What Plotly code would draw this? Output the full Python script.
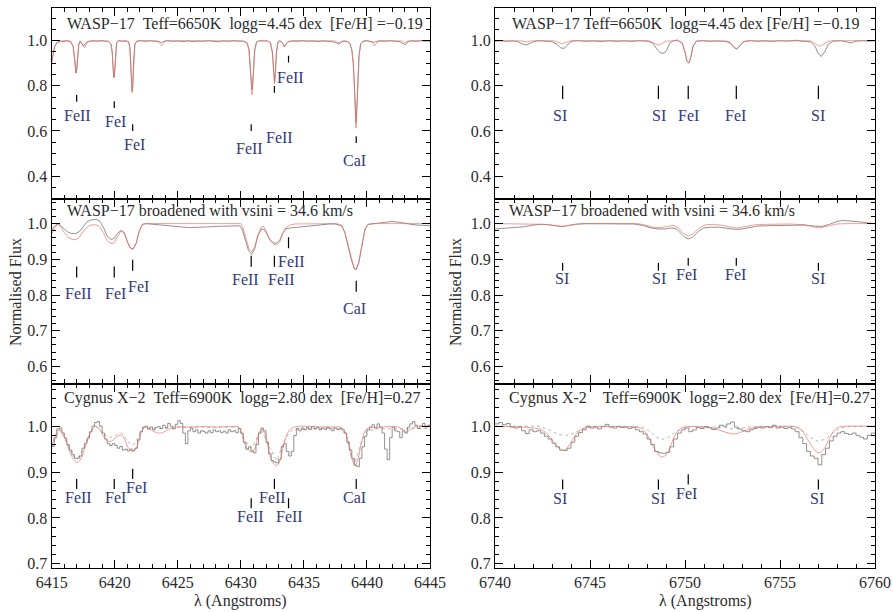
import plotly.graph_objects as go

# ---------------------------------------------------------------------------
# Spectra as (wavelength [Angstrom], normalised flux) pairs
# ---------------------------------------------------------------------------

# WASP-17, 6415-6445 A, observed (grey) and synthetic (red)
wasp_blue_obs = [
    (6415.00, 0.905), (6415.10, 0.940), (6415.25, 0.975), (6415.40, 0.990), (6415.60, 0.995),
    (6415.90, 0.997), (6416.20, 0.999), (6416.50, 0.996), (6416.70, 0.975), (6416.80, 0.930),
    (6416.88, 0.880), (6416.93, 0.856), (6416.98, 0.870), (6417.05, 0.930), (6417.15, 0.985),
    (6417.25, 0.999), (6417.35, 0.992), (6417.50, 0.976), (6417.65, 0.986), (6417.80, 0.995),
    (6418.00, 0.997), (6418.30, 1.000), (6418.60, 0.997), (6418.90, 1.000), (6419.20, 0.998),
    (6419.50, 0.997), (6419.70, 0.985), (6419.80, 0.950), (6419.87, 0.880), (6419.93, 0.836),
    (6419.98, 0.850), (6420.05, 0.930), (6420.15, 0.990), (6420.30, 1.000), (6420.60, 0.998),
    (6420.90, 1.000), (6421.10, 0.995), (6421.20, 0.970), (6421.28, 0.900), (6421.34, 0.805),
    (6421.38, 0.776), (6421.43, 0.800), (6421.50, 0.920), (6421.60, 0.985), (6421.75, 0.998),
    (6422.00, 1.000), (6422.40, 0.997), (6422.80, 1.000), (6423.20, 0.998), (6423.50, 0.996),
    (6423.70, 0.992), (6423.90, 0.997), (6424.20, 1.000), (6424.60, 0.997), (6425.00, 0.999),
    (6425.40, 0.996), (6425.80, 0.999), (6426.20, 0.996), (6426.60, 0.999), (6427.00, 0.997),
    (6427.40, 1.000), (6427.80, 0.997), (6428.20, 0.995), (6428.60, 0.999), (6429.00, 0.997),
    (6429.40, 1.000), (6429.80, 0.998), (6430.20, 0.997), (6430.50, 0.990), (6430.65, 0.960),
    (6430.75, 0.880), (6430.83, 0.800), (6430.88, 0.782), (6430.93, 0.800), (6431.00, 0.880),
    (6431.10, 0.960), (6431.25, 0.995), (6431.50, 1.000), (6431.80, 0.998), (6432.10, 0.999),
    (6432.35, 0.990), (6432.50, 0.950), (6432.60, 0.870), (6432.67, 0.820), (6432.73, 0.850),
    (6432.82, 0.950), (6432.95, 0.995), (6433.10, 1.000), (6433.30, 0.990), (6433.45, 0.972),
    (6433.60, 0.985), (6433.80, 0.996), (6434.10, 0.999), (6434.50, 0.997), (6434.90, 1.000),
    (6435.30, 0.997), (6435.70, 0.999), (6436.10, 0.996), (6436.50, 0.999), (6436.90, 0.997),
    (6437.30, 0.995), (6437.60, 0.990), (6437.75, 0.984), (6437.90, 0.990), (6438.10, 0.998),
    (6438.40, 0.997), (6438.65, 0.988), (6438.80, 0.960), (6438.92, 0.900), (6439.00, 0.810),
    (6439.07, 0.700), (6439.13, 0.634), (6439.19, 0.690), (6439.27, 0.830), (6439.37, 0.935),
    (6439.50, 0.985), (6439.70, 0.998), (6440.00, 1.000), (6440.30, 0.997), (6440.50, 0.993),
    (6440.70, 0.996), (6441.00, 0.999), (6441.40, 0.997), (6441.80, 1.000), (6442.20, 0.998),
    (6442.60, 0.995), (6442.90, 0.986), (6443.05, 0.982), (6443.20, 0.994), (6443.50, 0.999),
    (6443.90, 0.997), (6444.30, 1.000), (6444.70, 0.998), (6445.00, 0.999),
]
wasp_blue_syn = [
    (6415.00, 0.910), (6415.10, 0.945), (6415.25, 0.978), (6415.40, 0.992), (6415.60, 0.998),
    (6416.00, 1.000), (6416.50, 0.998), (6416.70, 0.975), (6416.80, 0.930), (6416.88, 0.880),
    (6416.93, 0.858), (6416.98, 0.872), (6417.05, 0.930), (6417.15, 0.985), (6417.30, 0.995),
    (6417.45, 0.980), (6417.60, 0.968), (6417.75, 0.985), (6417.95, 0.998), (6418.50, 1.000),
    (6419.00, 1.000), (6419.50, 0.998), (6419.70, 0.985), (6419.80, 0.950), (6419.87, 0.880),
    (6419.93, 0.838), (6419.98, 0.852), (6420.05, 0.930), (6420.15, 0.990), (6420.30, 1.000),
    (6421.10, 0.995), (6421.20, 0.970), (6421.28, 0.900), (6421.34, 0.800), (6421.38, 0.769),
    (6421.43, 0.795), (6421.50, 0.915), (6421.60, 0.985), (6421.75, 0.998), (6422.00, 1.000),
    (6423.40, 0.999), (6423.60, 0.988), (6423.72, 0.978), (6423.85, 0.988), (6424.05, 0.999),
    (6425.00, 1.000), (6430.20, 0.999), (6430.50, 0.990), (6430.65, 0.955), (6430.75, 0.870),
    (6430.83, 0.785), (6430.88, 0.759), (6430.93, 0.790), (6431.00, 0.875), (6431.10, 0.958),
    (6431.25, 0.995), (6431.50, 1.000), (6432.10, 1.000), (6432.35, 0.990), (6432.50, 0.945),
    (6432.60, 0.860), (6432.67, 0.808), (6432.73, 0.840), (6432.82, 0.945), (6432.95, 0.994),
    (6433.10, 1.000), (6433.30, 0.990), (6433.45, 0.975), (6433.60, 0.988), (6433.80, 0.997),
    (6434.10, 1.000), (6437.50, 0.999), (6437.70, 0.990), (6437.90, 0.993), (6438.10, 0.999),
    (6438.40, 0.998), (6438.65, 0.987), (6438.80, 0.958), (6438.92, 0.895), (6439.00, 0.800),
    (6439.07, 0.680), (6439.13, 0.612), (6439.19, 0.675), (6439.27, 0.820), (6439.37, 0.930),
    (6439.50, 0.984), (6439.70, 0.998), (6440.00, 1.000), (6440.40, 0.995), (6440.60, 0.977),
    (6440.80, 0.993), (6441.00, 1.000), (6442.80, 0.999), (6443.00, 0.990), (6443.20, 0.998),
    (6443.50, 1.000), (6445.00, 1.000),
]

# WASP-17, 6740-6760 A
wasp_red_obs = [
    (6740.00, 0.998), (6740.30, 1.000), (6740.60, 0.997), (6740.90, 0.999), (6741.20, 0.996),
    (6741.45, 0.985), (6741.65, 0.981), (6741.85, 0.990), (6742.10, 0.998), (6742.40, 1.000),
    (6742.70, 0.997), (6743.00, 0.995), (6743.25, 0.985), (6743.45, 0.968), (6743.65, 0.966),
    (6743.85, 0.985), (6744.05, 0.998), (6744.40, 1.000), (6744.80, 0.997), (6745.20, 0.999),
    (6745.60, 0.996), (6746.00, 1.000), (6746.40, 0.997), (6746.80, 0.999), (6747.20, 0.997),
    (6747.60, 1.000), (6748.00, 0.998), (6748.30, 0.990), (6748.50, 0.965), (6748.70, 0.946),
    (6748.90, 0.944), (6749.05, 0.960), (6749.20, 0.990), (6749.40, 1.000), (6749.60, 1.003),
    (6749.85, 0.990), (6750.00, 0.950), (6750.10, 0.910), (6750.20, 0.900), (6750.30, 0.925),
    (6750.42, 0.975), (6750.60, 0.998), (6750.90, 1.000), (6751.30, 0.997), (6751.70, 0.999),
    (6752.10, 0.997), (6752.40, 0.990), (6752.55, 0.972), (6752.72, 0.962), (6752.88, 0.975),
    (6753.05, 0.995), (6753.40, 1.000), (6753.80, 0.997), (6754.20, 0.999), (6754.60, 0.997),
    (6755.00, 1.000), (6755.40, 0.998), (6755.80, 1.002), (6756.20, 0.998), (6756.60, 0.995),
    (6756.85, 0.975), (6757.00, 0.945), (6757.17, 0.930), (6757.35, 0.950), (6757.55, 0.985),
    (6757.80, 0.998), (6758.20, 1.000), (6758.55, 0.995), (6758.75, 0.990), (6758.95, 0.997),
    (6759.30, 1.000), (6759.70, 0.998), (6760.00, 1.000),
]
wasp_red_syn = [
    (6740.00, 1.000), (6741.40, 0.999), (6741.65, 0.994), (6741.90, 0.999), (6743.10, 1.000),
    (6743.35, 0.992), (6743.55, 0.986), (6743.75, 0.993), (6744.00, 1.000), (6748.10, 1.000),
    (6748.40, 0.990), (6748.60, 0.980), (6748.80, 0.988), (6749.00, 0.998), (6749.60, 1.000),
    (6749.85, 0.990), (6750.00, 0.950), (6750.10, 0.910), (6750.20, 0.902), (6750.30, 0.925),
    (6750.42, 0.975), (6750.60, 0.998), (6750.90, 1.000), (6752.30, 0.998), (6752.50, 0.978),
    (6752.72, 0.964), (6752.90, 0.978), (6753.10, 0.997), (6753.40, 1.000), (6756.60, 0.999),
    (6756.90, 0.985), (6757.10, 0.975), (6757.30, 0.985), (6757.55, 0.998), (6757.80, 1.000),
    (6760.00, 1.000),
]

# WASP-17 broadened to vsini = 34.6 km/s, 6415-6445 A
broad_blue_obs = [
    (6415.00, 0.980), (6415.20, 0.992), (6415.45, 1.000), (6415.70, 0.995), (6416.00, 0.985),
    (6416.30, 0.976), (6416.60, 0.972), (6416.90, 0.972), (6417.20, 0.978), (6417.50, 0.992),
    (6417.80, 1.005), (6418.10, 1.010), (6418.50, 1.012), (6418.80, 1.008), (6419.10, 0.990),
    (6419.40, 0.965), (6419.70, 0.956), (6419.95, 0.958), (6420.20, 0.972), (6420.50, 0.981),
    (6420.75, 0.975), (6421.00, 0.950), (6421.20, 0.933), (6421.45, 0.929), (6421.70, 0.945),
    (6421.95, 0.980), (6422.20, 0.998), (6422.50, 1.000), (6423.00, 0.998), (6423.50, 0.996),
    (6424.00, 0.994), (6424.50, 0.993), (6425.00, 0.991), (6425.50, 0.990), (6426.00, 0.989),
    (6426.50, 0.989), (6427.00, 0.990), (6427.50, 0.991), (6428.00, 0.992), (6428.50, 0.993),
    (6429.00, 0.994), (6429.50, 0.995), (6429.90, 0.994), (6430.10, 0.985), (6430.35, 0.955),
    (6430.60, 0.925), (6430.86, 0.914), (6431.10, 0.930), (6431.35, 0.965), (6431.60, 0.983),
    (6431.80, 0.985), (6432.00, 0.975), (6432.30, 0.955), (6432.60, 0.946), (6432.85, 0.945),
    (6433.10, 0.955), (6433.35, 0.975), (6433.60, 0.986), (6434.00, 0.988), (6434.50, 0.990),
    (6435.00, 0.993), (6435.50, 0.995), (6436.00, 0.997), (6436.50, 0.998), (6437.00, 0.999),
    (6437.50, 0.999), (6438.00, 0.994), (6438.25, 0.975), (6438.50, 0.940), (6438.75, 0.900),
    (6439.00, 0.874), (6439.15, 0.872), (6439.35, 0.890), (6439.60, 0.940), (6439.85, 0.985),
    (6440.10, 0.998), (6440.50, 1.000), (6441.00, 1.002), (6441.50, 1.004), (6442.00, 1.006),
    (6442.50, 1.004), (6443.00, 1.000), (6443.50, 0.998), (6444.00, 0.996), (6444.50, 0.995),
    (6445.00, 0.994),
]
broad_blue_syn = [
    (6415.00, 0.970), (6415.20, 0.985), (6415.45, 0.998), (6415.70, 0.992), (6416.00, 0.975),
    (6416.30, 0.962), (6416.60, 0.956), (6416.90, 0.955), (6417.20, 0.962), (6417.50, 0.978),
    (6417.80, 0.990), (6418.10, 0.996), (6418.50, 0.997), (6418.80, 0.992), (6419.10, 0.975),
    (6419.40, 0.952), (6419.70, 0.944), (6419.95, 0.946), (6420.20, 0.962), (6420.50, 0.980),
    (6420.75, 0.972), (6421.00, 0.948), (6421.20, 0.932), (6421.45, 0.928), (6421.70, 0.944),
    (6421.95, 0.980), (6422.20, 0.998), (6422.50, 1.000), (6430.00, 1.000), (6430.15, 0.990),
    (6430.40, 0.960), (6430.65, 0.930), (6430.86, 0.921), (6431.10, 0.935), (6431.35, 0.968),
    (6431.60, 0.990), (6431.80, 0.993), (6432.00, 0.980), (6432.30, 0.955), (6432.60, 0.942),
    (6432.85, 0.940), (6433.10, 0.950), (6433.35, 0.975), (6433.60, 0.990), (6433.90, 0.996),
    (6434.30, 0.999), (6437.60, 1.000), (6438.00, 0.995), (6438.25, 0.975), (6438.50, 0.940),
    (6438.75, 0.900), (6439.00, 0.873), (6439.15, 0.871), (6439.35, 0.890), (6439.60, 0.940),
    (6439.85, 0.985), (6440.10, 0.998), (6440.50, 1.000), (6445.00, 1.000),
]

# WASP-17 broadened, 6740-6760 A
broad_red_obs = [
    (6740.00, 0.985), (6740.50, 0.987), (6741.00, 0.989), (6741.50, 0.991), (6742.00, 0.996),
    (6742.40, 0.998), (6742.80, 0.997), (6743.20, 0.994), (6743.50, 0.992), (6743.80, 0.994),
    (6744.20, 0.998), (6744.70, 1.000), (6745.50, 1.000), (6746.50, 1.000), (6747.30, 0.999),
    (6747.80, 0.995), (6748.20, 0.988), (6748.60, 0.985), (6749.00, 0.985), (6749.30, 0.988),
    (6749.55, 0.985), (6749.80, 0.972), (6750.00, 0.961), (6750.17, 0.957), (6750.40, 0.962),
    (6750.70, 0.978), (6751.00, 0.988), (6751.40, 0.990), (6751.80, 0.990), (6752.20, 0.987),
    (6752.60, 0.984), (6752.90, 0.984), (6753.30, 0.988), (6753.80, 0.993), (6754.30, 0.994),
    (6755.00, 0.995), (6755.70, 0.994), (6756.30, 0.996), (6756.80, 0.993), (6757.20, 0.992),
    (6757.60, 0.998), (6758.00, 1.006), (6758.30, 1.009), (6758.70, 1.008), (6759.20, 1.005),
    (6759.60, 1.002), (6760.00, 1.000),
]
broad_red_syn = [
    (6740.00, 1.000), (6741.00, 1.000), (6742.00, 0.999), (6742.70, 0.998), (6743.20, 0.994),
    (6743.55, 0.992), (6743.90, 0.995), (6744.40, 0.999), (6745.00, 1.000), (6747.50, 1.000),
    (6747.90, 0.996), (6748.30, 0.990), (6748.70, 0.989), (6749.10, 0.992), (6749.40, 0.995),
    (6749.65, 0.988), (6749.90, 0.973), (6750.17, 0.965), (6750.45, 0.972), (6750.75, 0.988),
    (6751.10, 0.997), (6751.50, 0.998), (6752.00, 0.995), (6752.40, 0.990), (6752.80, 0.988),
    (6753.20, 0.992), (6753.70, 0.997), (6754.30, 0.998), (6755.50, 0.999), (6756.30, 0.997),
    (6756.80, 0.990), (6757.10, 0.988), (6757.50, 0.992), (6758.00, 0.999), (6758.50, 1.000),
    (6760.00, 1.000),
]

# Cygnus X-2, 6415-6445 A: observed (binned), best fit (red), alternative fit (dotted)
cyg_blue_obs = [
    (6415.0, 0.956), (6415.2, 0.975), (6415.4, 0.994), (6415.6, 0.996), (6415.8, 0.985),
    (6416.0, 0.974), (6416.2, 0.960), (6416.4, 0.948), (6416.6, 0.938), (6416.8, 0.930),
    (6417.0, 0.930), (6417.2, 0.935), (6417.4, 0.952), (6417.6, 0.963), (6417.8, 0.974),
    (6418.0, 0.988), (6418.2, 1.000), (6418.4, 1.008), (6418.6, 1.010), (6418.8, 1.000),
    (6419.0, 0.985), (6419.2, 0.972), (6419.4, 0.962), (6419.6, 0.958), (6419.8, 0.962),
    (6420.0, 0.958), (6420.2, 0.952), (6420.4, 0.956), (6420.6, 0.948), (6420.8, 0.950),
    (6421.0, 0.946), (6421.2, 0.950), (6421.4, 0.947), (6421.6, 0.952), (6421.8, 0.970),
    (6422.0, 0.988), (6422.2, 0.998), (6422.4, 1.000), (6422.6, 0.994), (6422.8, 0.998),
    (6423.0, 0.992), (6423.2, 0.997), (6423.4, 0.999), (6423.6, 0.995), (6423.8, 1.002),
    (6424.0, 0.997), (6424.2, 1.006), (6424.4, 1.000), (6424.6, 0.994), (6424.8, 1.004),
    (6425.0, 1.012), (6425.2, 1.006), (6425.4, 0.985), (6425.6, 0.962), (6425.8, 0.990),
    (6426.0, 0.996), (6426.2, 0.988), (6426.4, 0.992), (6426.6, 0.985), (6426.8, 0.990),
    (6427.0, 0.988), (6427.2, 0.985), (6427.4, 0.990), (6427.6, 0.986), (6427.8, 0.992),
    (6428.0, 0.988), (6428.2, 0.990), (6428.4, 0.986), (6428.6, 0.989), (6428.8, 0.985),
    (6429.0, 0.992), (6429.2, 0.988), (6429.4, 0.990), (6429.6, 0.986), (6429.8, 0.995),
    (6430.0, 0.985), (6430.2, 0.965), (6430.4, 0.950), (6430.6, 0.955), (6430.8, 0.946),
    (6431.0, 0.942), (6431.2, 0.960), (6431.4, 0.985), (6431.6, 0.996), (6431.8, 0.990),
    (6432.0, 0.965), (6432.2, 0.940), (6432.4, 0.925), (6432.6, 0.922), (6432.8, 0.920),
    (6433.0, 0.928), (6433.2, 0.955), (6433.4, 0.962), (6433.6, 0.945), (6433.8, 0.935),
    (6434.0, 0.945), (6434.2, 0.980), (6434.4, 0.995), (6434.6, 0.990), (6434.8, 0.996),
    (6435.0, 0.992), (6435.2, 0.997), (6435.4, 0.993), (6435.6, 0.999), (6435.8, 0.994),
    (6436.0, 0.997), (6436.2, 0.992), (6436.4, 0.996), (6436.6, 0.993), (6436.8, 0.998),
    (6437.0, 0.994), (6437.2, 0.990), (6437.4, 0.996), (6437.6, 0.993), (6437.8, 0.995),
    (6438.0, 0.992), (6438.2, 0.985), (6438.4, 0.965), (6438.6, 0.948), (6438.8, 0.930),
    (6439.0, 0.915), (6439.2, 0.912), (6439.4, 0.930), (6439.6, 0.955), (6439.8, 0.978),
    (6440.0, 0.992), (6440.2, 0.998), (6440.4, 1.003), (6440.6, 0.996), (6440.8, 1.005),
    (6441.0, 0.998), (6441.2, 0.985), (6441.4, 0.950), (6441.6, 0.927), (6441.8, 0.975),
    (6442.0, 0.998), (6442.2, 0.990), (6442.4, 0.988), (6442.6, 0.975), (6442.8, 0.990),
    (6443.0, 0.985), (6443.2, 0.998), (6443.4, 1.005), (6443.6, 1.010), (6443.8, 1.002),
    (6444.0, 0.995), (6444.2, 1.000), (6444.4, 1.006), (6444.6, 0.998), (6444.8, 1.002),
    (6445.0, 1.000),
]
cyg_blue_fit = [
    (6415.00, 0.958), (6415.30, 0.980), (6415.60, 0.993), (6415.90, 0.985), (6416.20, 0.962),
    (6416.50, 0.940), (6416.80, 0.925), (6417.05, 0.921), (6417.30, 0.928), (6417.60, 0.950),
    (6417.90, 0.975), (6418.20, 0.993), (6418.50, 1.000), (6418.80, 0.994), (6419.10, 0.978),
    (6419.40, 0.968), (6419.70, 0.967), (6420.00, 0.973), (6420.30, 0.979), (6420.55, 0.980),
    (6420.80, 0.970), (6421.10, 0.952), (6421.45, 0.945), (6421.75, 0.955), (6422.00, 0.978),
    (6422.30, 0.997), (6422.60, 0.996), (6423.00, 0.990), (6423.40, 0.985), (6423.80, 0.986),
    (6424.20, 0.992), (6424.60, 0.997), (6425.00, 0.999), (6426.00, 0.998), (6427.00, 0.999),
    (6428.00, 0.998), (6429.00, 0.999), (6429.80, 0.998), (6430.05, 0.985), (6430.30, 0.962),
    (6430.60, 0.948), (6430.90, 0.944), (6431.15, 0.955), (6431.40, 0.982), (6431.65, 0.994),
    (6431.90, 0.985), (6432.20, 0.950), (6432.50, 0.922), (6432.85, 0.914), (6433.10, 0.925),
    (6433.40, 0.960), (6433.70, 0.985), (6434.00, 0.995), (6434.40, 0.999), (6435.00, 1.000),
    (6436.00, 0.999), (6437.00, 0.998), (6438.00, 0.997), (6438.30, 0.985), (6438.55, 0.960),
    (6438.80, 0.930), (6439.05, 0.914), (6439.30, 0.930), (6439.55, 0.962), (6439.85, 0.990),
    (6440.20, 0.997), (6440.80, 0.997), (6441.50, 0.999), (6442.50, 0.998), (6442.85, 0.992),
    (6443.10, 0.987), (6443.40, 0.992), (6443.80, 0.999), (6445.00, 1.000),
]
cyg_blue_alt = [
    (6415.00, 0.955), (6415.60, 0.992), (6416.20, 0.965), (6416.80, 0.932), (6417.05, 0.930),
    (6417.60, 0.955), (6418.20, 0.993), (6418.50, 0.999), (6419.10, 0.983), (6419.60, 0.975),
    (6420.20, 0.982), (6420.55, 0.985), (6421.10, 0.965), (6421.45, 0.958), (6422.00, 0.982),
    (6422.30, 0.996), (6424.00, 0.995), (6426.00, 0.998), (6429.80, 0.998), (6430.30, 0.968),
    (6430.90, 0.952), (6431.40, 0.982), (6431.65, 0.992), (6432.20, 0.958), (6432.85, 0.925),
    (6433.40, 0.965), (6433.80, 0.985), (6434.20, 0.993), (6437.50, 0.996), (6438.30, 0.985),
    (6438.80, 0.935), (6439.05, 0.920), (6439.55, 0.965), (6440.00, 0.990), (6441.00, 0.995),
    (6443.00, 0.994), (6445.00, 0.995),
]

# Cygnus X-2, 6740-6760 A
cyg_red_obs = [
    (6740.0, 1.005), (6740.2, 1.008), (6740.4, 1.003), (6740.6, 1.006), (6740.8, 0.998),
    (6741.0, 0.996), (6741.2, 0.998), (6741.4, 0.990), (6741.6, 0.984), (6741.8, 0.992),
    (6742.0, 0.988), (6742.2, 0.990), (6742.4, 0.985), (6742.6, 0.978), (6742.8, 0.972),
    (6743.0, 0.963), (6743.2, 0.955), (6743.4, 0.948), (6743.6, 0.947), (6743.8, 0.952),
    (6744.0, 0.965), (6744.2, 0.978), (6744.4, 0.986), (6744.6, 0.992), (6744.8, 1.000),
    (6745.0, 0.996), (6745.2, 0.998), (6745.4, 0.994), (6745.6, 0.999), (6745.8, 1.004),
    (6746.0, 0.998), (6746.2, 0.996), (6746.4, 0.999), (6746.6, 0.997), (6746.8, 0.998),
    (6747.0, 0.995), (6747.2, 0.997), (6747.4, 0.992), (6747.6, 0.988), (6747.8, 0.983),
    (6748.0, 0.972), (6748.2, 0.960), (6748.4, 0.945), (6748.6, 0.942), (6748.8, 0.941),
    (6749.0, 0.943), (6749.2, 0.955), (6749.4, 0.972), (6749.6, 0.985), (6749.8, 0.992),
    (6750.0, 0.996), (6750.2, 0.988), (6750.4, 0.992), (6750.6, 0.997), (6750.8, 0.995),
    (6751.0, 0.999), (6751.2, 0.997), (6751.4, 0.993), (6751.6, 0.996), (6751.8, 1.002),
    (6752.0, 1.000), (6752.2, 1.005), (6752.4, 1.009), (6752.6, 0.998), (6752.8, 0.994),
    (6753.0, 0.990), (6753.2, 0.988), (6753.4, 0.992), (6753.6, 0.995), (6753.8, 0.998),
    (6754.0, 0.996), (6754.2, 0.999), (6754.4, 0.997), (6754.6, 1.002), (6754.8, 0.996),
    (6755.0, 0.998), (6755.2, 0.995), (6755.4, 0.997), (6755.6, 0.994), (6755.8, 0.988),
    (6756.0, 0.975), (6756.2, 0.962), (6756.4, 0.945), (6756.6, 0.935), (6756.8, 0.930),
    (6757.0, 0.916), (6757.2, 0.938), (6757.4, 0.952), (6757.6, 0.968), (6757.8, 0.978),
    (6758.0, 0.985), (6758.2, 0.988), (6758.4, 0.984), (6758.6, 0.982), (6758.8, 0.985),
    (6759.0, 0.980), (6759.2, 0.976), (6759.4, 0.972), (6759.6, 0.980), (6759.8, 0.985),
    (6760.0, 0.984),
]
cyg_red_fit = [
    (6740.00, 0.999), (6741.00, 0.999), (6741.80, 0.997), (6742.40, 0.993), (6742.70, 0.985),
    (6743.00, 0.970), (6743.30, 0.955), (6743.60, 0.947), (6743.90, 0.958), (6744.20, 0.978),
    (6744.50, 0.992), (6744.90, 0.998), (6745.50, 0.999), (6747.00, 0.999), (6747.70, 0.995),
    (6748.00, 0.982), (6748.25, 0.962), (6748.50, 0.944), (6748.75, 0.933), (6749.00, 0.937),
    (6749.25, 0.958), (6749.50, 0.982), (6749.80, 0.996), (6750.10, 0.999), (6751.00, 0.998),
    (6751.50, 0.995), (6751.90, 0.990), (6752.30, 0.985), (6752.60, 0.983), (6752.90, 0.986),
    (6753.30, 0.993), (6753.80, 0.998), (6754.50, 0.999), (6755.80, 0.999), (6756.10, 0.993),
    (6756.35, 0.978), (6756.65, 0.958), (6756.90, 0.945), (6757.05, 0.942), (6757.30, 0.950),
    (6757.55, 0.968), (6757.80, 0.988), (6758.10, 0.998), (6758.60, 1.000), (6760.00, 1.000),
]
cyg_red_alt = [
    (6740.00, 1.000), (6742.30, 1.000), (6742.80, 0.993), (6743.30, 0.983), (6743.70, 0.979),
    (6744.10, 0.984), (6744.60, 0.994), (6745.20, 1.000), (6747.70, 0.999), (6748.10, 0.990),
    (6748.50, 0.976), (6748.80, 0.971), (6749.10, 0.975), (6749.50, 0.987), (6749.90, 0.996),
    (6750.30, 0.999), (6752.00, 0.998), (6752.50, 0.994), (6753.00, 0.996), (6753.60, 0.999),
    (6755.80, 0.999), (6756.20, 0.990), (6756.60, 0.975), (6757.00, 0.967), (6757.40, 0.972),
    (6757.80, 0.986), (6758.20, 0.996), (6758.60, 0.999), (6760.00, 0.999),
]

# ---------------------------------------------------------------------------
# Line identifications
# ---------------------------------------------------------------------------
blue_ions = ["FeII", "FeI", "FeI", "FeII", "FeII", "FeII", "CaI"]
blue_line_wl = [6416.98, 6419.96, 6421.42, 6430.82, 6432.66, 6433.78, 6439.15]

# per panel: top of marker, label x, label y
wasp_blue_mark_top = [0.759, 0.732, 0.630, 0.630, 0.799, 0.933, 0.576]
wasp_blue_label_x = [6417.07, 6420.05, 6421.53, 6430.65, 6433.06, 6433.94, 6439.05]
wasp_blue_label_y = [0.670, 0.640, 0.541, 0.523, 0.569, 0.836, 0.470]

broad_blue_mark_top = [0.880, 0.880, 0.899, 0.910, 0.910, 0.962, 0.840]
broad_blue_label_x = [6417.10, 6420.05, 6421.87, 6430.38, 6433.20, 6434.03, 6439.05]
broad_blue_label_y = [0.803, 0.803, 0.824, 0.843, 0.843, 0.894, 0.763]

cyg_blue_mark_top = [0.885, 0.885, 0.907, 0.843, 0.885, 0.843, 0.885]
cyg_blue_label_x = [6417.10, 6420.05, 6421.74, 6430.75, 6432.47, 6433.86, 6439.05]
cyg_blue_label_y = [0.844, 0.844, 0.866, 0.803, 0.844, 0.803, 0.844]

red_ions = ["SI", "SI", "FeI", "FeI", "SI"]
red_line_wl = [6743.56, 6748.60, 6750.17, 6752.70, 6757.02]

wasp_red_mark_top = [0.800, 0.800, 0.800, 0.800, 0.800]
wasp_red_label_x = [6743.42, 6748.63, 6750.17, 6752.65, 6757.02]
wasp_red_label_y = [0.670, 0.670, 0.670, 0.670, 0.670]

broad_red_mark_top = [0.890, 0.890, 0.904, 0.904, 0.890]
broad_red_label_x = [6743.54, 6748.63, 6750.09, 6752.65, 6757.02]
broad_red_label_y = [0.845, 0.845, 0.857, 0.857, 0.845]

cyg_red_ions = ["SI", "SI", "FeI", "SI"]
cyg_red_line_wl = [6743.56, 6748.60, 6750.17, 6757.02]
cyg_red_mark_top = [0.884, 0.884, 0.895, 0.884]
cyg_red_label_x = [6743.44, 6748.60, 6750.10, 6756.96]
cyg_red_label_y = [0.842, 0.842, 0.853, 0.842]

panel_titles = [
    "WASP\u221217\u00a0\u00a0Teff=6650K\u00a0\u00a0logg=4.45 dex\u00a0\u00a0[Fe/H] =\u22120.19",
    "WASP\u221217 Teff=6650K\u00a0\u00a0logg=4.45 dex [Fe/H] =\u22120.19",
    "WASP\u221217 broadened with vsini = 34.6 km/s",
    "WASP\u221217 broadened with vsini = 34.6 km/s",
    "Cygnus X\u22122\u00a0\u00a0Teff=6900K\u00a0\u00a0logg=2.80 dex\u00a0\u00a0[Fe/H]=0.27",
    "Cygnus X-2\u00a0\u00a0\u00a0\u00a0Teff=6900K\u00a0\u00a0logg=2.80 dex\u00a0\u00a0[Fe/H]=0.27",
]

# ---------------------------------------------------------------------------
# Figure
# ---------------------------------------------------------------------------
W, H = 893, 612
SERIF = "Liberation Serif"
TXT = "#2b2b2b"
ID_COL = "#343a78"
OBS_COL = "rgba(110, 110, 110, 0.85)"
FIT_COL = "rgba(240, 110, 100, 0.75)"

col_dom = [[51.7 / W, 430.0 / W], [495.0 / W, 875.0 / W]]
row_px = [(8.0, 199.0), (199.0, 383.5), (383.5, 568.0)]
row_dom = [[1 - b / H, 1 - t / H] for t, b in row_px]

x_ranges = [[6415, 6445], [6740, 6760]]
y_ranges = [[0.298, 1.145], [0.552, 1.069], [0.691, 1.093]]
y_dtick = [0.2, 0.1, 0.1]
y_minor = [0.05, 0.02, 0.02]

fig = go.Figure()
layout = dict(
    width=W, height=H, margin=dict(l=0, r=0, t=0, b=0, autoexpand=False),
    paper_bgcolor="white", plot_bgcolor="white", showlegend=False,
)

for r in range(3):
    for c in range(2):
        k = r * 2 + c + 1
        sx = "" if k == 1 else str(k)
        layout["xaxis" + sx] = dict(
            domain=col_dom[c], range=x_ranges[c], anchor="y" + sx, automargin=False,
            showline=True, linecolor="black", linewidth=1.3, mirror="allticks",
            ticks="inside", ticklen=8, tickwidth=1.1, tickcolor="black",
            tick0=x_ranges[c][0], dtick=5,
            minor=dict(ticks="inside", ticklen=4, tickwidth=1, tickcolor="black", dtick=1),
            showgrid=False, zeroline=False, showticklabels=(r == 2),
            tickfont=dict(family=SERIF, size=16, color=TXT),
        )
        layout["yaxis" + sx] = dict(
            domain=row_dom[r], range=y_ranges[r], anchor="x" + sx, automargin=False,
            showline=True, linecolor="black", linewidth=1.3, mirror="allticks",
            ticks="inside", ticklen=8, tickwidth=1.1, tickcolor="black",
            tick0=0, dtick=y_dtick[r], tickformat=".1f",
            minor=dict(ticks="inside", ticklen=4, tickwidth=1, tickcolor="black",
                       dtick=y_minor[r]),
            showgrid=False, zeroline=False,
            tickfont=dict(family=SERIF, size=16, color=TXT),
        )

fig.update_layout(**layout)


def add_line(pairs, k, color, width=0.9, dash="solid", shape="linear"):
    sx = "" if k == 1 else str(k)
    fig.add_trace(go.Scatter(
        x=[p[0] for p in pairs], y=[p[1] for p in pairs], mode="lines",
        line=dict(color=color, width=width, dash=dash, shape=shape),
        xaxis="x" + sx, yaxis="y" + sx, hoverinfo="skip",
    ))


add_line(wasp_blue_obs, 1, OBS_COL)
add_line(wasp_blue_syn, 1, FIT_COL)
add_line(wasp_red_obs, 2, OBS_COL)
add_line(wasp_red_syn, 2, FIT_COL)
add_line(broad_blue_obs, 3, OBS_COL)
add_line(broad_blue_syn, 3, FIT_COL)
add_line(broad_red_obs, 4, OBS_COL)
add_line(broad_red_syn, 4, FIT_COL)
add_line(cyg_blue_alt, 5, "#b0b0b0", dash="dot")
add_line(cyg_blue_obs, 5, OBS_COL, shape="hv")
add_line(cyg_blue_fit, 5, FIT_COL, shape="spline")
add_line(cyg_red_alt, 6, "#b0b0b0", dash="dot")
add_line(cyg_red_obs, 6, OBS_COL, shape="hv")
add_line(cyg_red_fit, 6, FIT_COL, shape="spline")

shapes = []
annotations = []


def add_ids(k, ions, wls, tops, length, lab_x, lab_y):
    sx = "" if k == 1 else str(k)
    for ion, wl, top, lx, ly in zip(ions, wls, tops, lab_x, lab_y):
        shapes.append(dict(type="line", xref="x" + sx, yref="y" + sx,
                           x0=wl, x1=wl, y0=top, y1=top - length,
                           line=dict(color="black", width=1.2)))
        annotations.append(dict(xref="x" + sx, yref="y" + sx, x=lx, y=ly,
                                text=ion, showarrow=False, xanchor="center",
                                yanchor="middle",
                                font=dict(family=SERIF, size=16, color=ID_COL)))


add_ids(1, blue_ions, blue_line_wl, wasp_blue_mark_top, 0.030,
        wasp_blue_label_x, wasp_blue_label_y)
add_ids(3, blue_ions, blue_line_wl, broad_blue_mark_top, 0.031,
        broad_blue_label_x, broad_blue_label_y)
add_ids(5, blue_ions, blue_line_wl, cyg_blue_mark_top, 0.022,
        cyg_blue_label_x, cyg_blue_label_y)
add_ids(2, red_ions, red_line_wl, wasp_red_mark_top, 0.059,
        wasp_red_label_x, wasp_red_label_y)
add_ids(4, red_ions, red_line_wl, broad_red_mark_top, 0.022,
        broad_red_label_x, broad_red_label_y)
add_ids(6, cyg_red_ions, cyg_red_line_wl, cyg_red_mark_top, 0.022,
        cyg_red_label_x, cyg_red_label_y)

# panel captions, placed in axis-domain coordinates
title_pos = [(0.035, 0.916), (0.039, 0.916), (0.035, 0.94),
             (0.031, 0.94), (0.026, 0.922), (0.031, 0.922)]
for k, (text, (tx, ty)) in enumerate(zip(panel_titles, title_pos), start=1):
    sx = "" if k == 1 else str(k)
    annotations.append(dict(xref="x" + sx + " domain", yref="y" + sx + " domain",
                            x=tx, y=ty, text=text, showarrow=False,
                            xanchor="left", yanchor="middle",
                            font=dict(family=SERIF, size=16, color=TXT)))

# axis titles
for cx in (15.0, 455.0):
    annotations.append(dict(xref="paper", yref="paper", x=cx / W, y=1 - 292.0 / H,
                            text="Normalised Flux", textangle=-90, showarrow=False,
                            xanchor="center", yanchor="middle",
                            font=dict(family=SERIF, size=16, color=TXT)))
for cx in (240.8, 705.0):
    annotations.append(dict(xref="paper", yref="paper", x=cx / W, y=1 - 601.0 / H,
                            text="\u03bb (Angstroms)", showarrow=False,
                            xanchor="center", yanchor="middle",
                            font=dict(family=SERIF, size=16, color=TXT)))

fig.update_layout(shapes=shapes, annotations=annotations)
fig.write_html("out.html")
